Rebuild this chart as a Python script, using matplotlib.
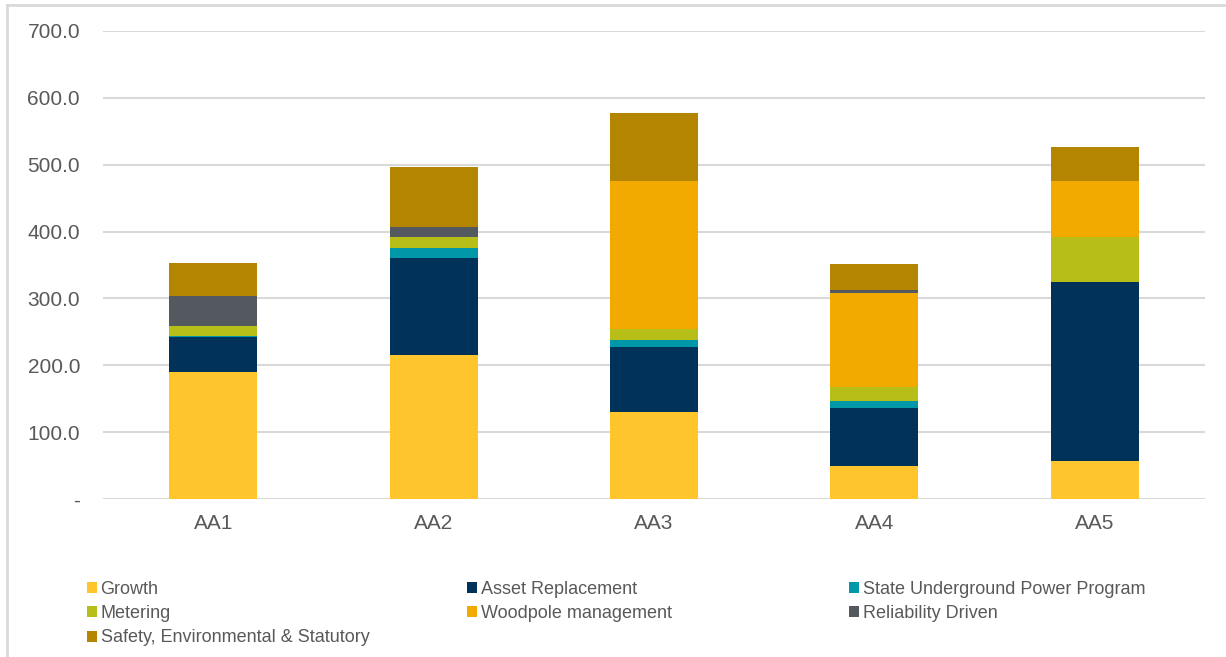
import matplotlib
matplotlib.use("Agg")
import matplotlib.pyplot as plt
from matplotlib.lines import Line2D
from matplotlib.patches import Patch
from matplotlib.ticker import FuncFormatter
import numpy as np

plt.rcParams['font.family'] = ['Liberation Sans', 'DejaVu Sans']

categories = ['AA1', 'AA2', 'AA3', 'AA4', 'AA5']

# stacked from bottom to top
growth = [190, 215, 130, 49, 57]
asset_replacement = [52, 145, 97, 87, 267]
supp = [2, 15, 11, 10, 0]
metering = [15, 17, 16, 21, 68]
woodpole = [0, 0, 222, 141, 84]
reliability = [45, 15, 0, 4, 0]
safety = [49, 89, 101, 40, 51]

series_names = ['Growth', 'Asset Replacement', 'State Underground Power Program',
                'Metering', 'Woodpole management', 'Reliability Driven',
                'Safety, Environmental & Statutory']
series_values = [growth, asset_replacement, supp, metering, woodpole, reliability, safety]
colors = ['#FFC52D', '#00325A', '#0098A8', '#B6BE17', '#F2A900', '#54585F', '#B38500']

W, H = 1226, 657
fig = plt.figure(figsize=(W / 100, H / 100), dpi=100)
ax = fig.add_axes([103 / W, 1 - 499 / H, (1205 - 103) / W, (499 - 31) / H])

x = np.arange(len(categories))
bottom = np.zeros(len(categories))
handles = []
for name, vals, c in zip(series_names, series_values, colors):
    ax.bar(x, vals, width=0.4, bottom=bottom, color=c, zorder=3)
    bottom += np.array(vals)
    handles.append(Patch(facecolor=c, label=name))

ax.set_xlim(-0.5, len(categories) - 0.5)
ax.set_ylim(0, 700)
ax.set_yticks(np.arange(0, 701, 100))
ax.yaxis.set_major_formatter(FuncFormatter(lambda v, p: '-' if v == 0 else f'{v:.1f}'))
ax.set_xticks(x)
ax.set_xticklabels(categories)
ax.grid(axis='y', color='#D9D9D9', linewidth=1.5, zorder=0)
for s in ax.spines.values():
    s.set_visible(False)
ax.tick_params(length=0, labelsize=15, colors='#595959')
ax.tick_params(axis='x', pad=11)
ax.tick_params(axis='y', pad=16.5)

# three legend columns, positioned like the original
cols = [[0, 3, 6], [1, 4], [2, 5]]
col_x = [78, 458, 840]
for idx, cx in zip(cols, col_x):
    fig.legend(handles=[handles[i] for i in idx], loc='upper left',
               bbox_to_anchor=(cx / W, 1 - 572 / H), frameon=False,
               fontsize=13, handlelength=0.55, handleheight=0.55,
               handletextpad=0.2, labelspacing=0.4, borderpad=0,
               labelcolor='#595959')

# thin frame around chart area (top and left)
fig.add_artist(Line2D([7 / W, 1], [1 - 5 / H, 1 - 5 / H], color='#D9D9D9', lw=2))
fig.add_artist(Line2D([7 / W, 7 / W], [0, 1 - 5 / H], color='#D9D9D9', lw=2))

fig.savefig('out.png', dpi=100)
